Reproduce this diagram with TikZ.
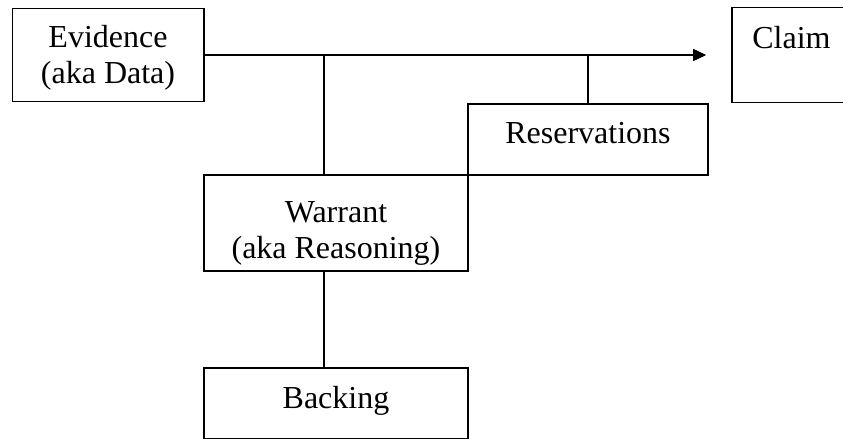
\documentclass[tikz,border=0pt]{standalone}
\usepackage{fontspec}
\setmainfont{Liberation Serif}
\usetikzlibrary{arrows.meta}
\begin{document}
\begin{tikzpicture}[x=1pt,y=-1pt,
  box/.style={draw, line width=1.6pt, rectangle, inner sep=0pt},
  lbl/.style={font=\fontsize{32}{36}\selectfont, align=center, anchor=base, inner sep=0pt},
  link/.style={line width=1.6pt},
]
\useasboundingbox (0,0) rectangle (843,439);
\clip (0,0) rectangle (843,439);

% boxes of the argument model
\node[box, minimum width=191.5pt, minimum height=93pt] (evidence) at (108.25,55) {};
\node[box, minimum width=119pt, minimum height=95pt] (claim) at (791.5,55) {};
\node[box, minimum width=240pt, minimum height=71pt] (reservations) at (588,139.5) {};
\node[box, minimum width=264pt, minimum height=96pt] (warrant) at (336,223) {};
\node[box, minimum width=264pt, minimum height=70.5pt] (backing) at (336,403.25) {};

% box texts, set near the top of each box (base = last line)
\node[lbl] (evidence text) at (108,83) {Evidence\\(aka Data)};
\node[lbl] (claim text) at (791.5,48) {Claim};
\node[lbl] (reservations text) at (588,143) {Reservations};
\node[lbl] (warrant text) at (336,258) {Warrant\\(aka Reasoning)};
\node[lbl] (backing text) at (336,408) {Backing};

% connectors
\coordinate (tip) at ([xshift=-25pt]claim.west);
\coordinate (split) at (324,0 |- evidence.east);
\draw[link, -{Triangle[length=13pt,width=12pt]}] (evidence.east) -- (tip);
\draw[link] (split) -- (split |- warrant.north);
\draw[link] (reservations.north |- evidence.east) -- (reservations.north);
\draw[link] (split |- warrant.south) -- (split |- backing.north);
\end{tikzpicture}
\end{document}
